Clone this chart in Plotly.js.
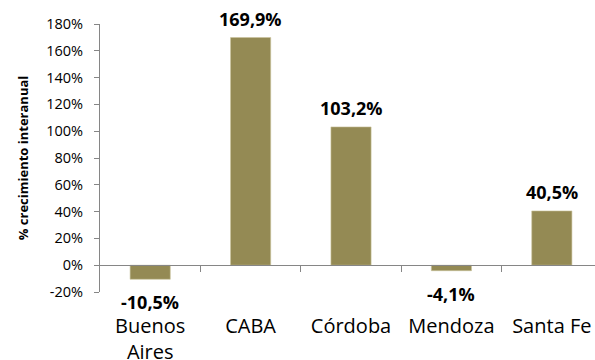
<!DOCTYPE html>
<html>
<head>
<meta charset="utf-8">
<script src="https://cdn.plot.ly/plotly-3.0.1.min.js"></script>
<style>html,body{margin:0;padding:0;background:#fff;overflow:hidden}</style>
</head>
<body>
<div id="chart" style="width:595px;height:360px"></div>
<script>
var categories = ["Buenos Aires", "CABA", "Córdoba", "Mendoza", "Santa Fe"];
var categoryLabels = ["Buenos<br>Aires", "CABA", "Córdoba", "Mendoza", "Santa Fe"];
var values = [-10.5, 169.9, 103.2, -4.1, 40.5];
var yTicks = [-20, 0, 20, 40, 60, 80, 100, 120, 140, 160, 180];
var yTickLabels = ["-20%", "0%", "20%", "40%", "60%", "80%", "100%", "120%", "140%", "160%", "180%"];

var FONT = "Open Sans, Lato, Liberation Sans, sans-serif";
var barColor = "#948A54";
var axisColor = "#868686";

var annotations = values.map(function (v, i) {
  return {
    x: categories[i], y: v, xref: "x", yref: "y",
    text: "<b>" + v.toFixed(1).replace(".", ",") + "%</b>",
    showarrow: false,
    yanchor: v >= 0 ? "bottom" : "top",
    yshift: v >= 0 ? 5 : -9,
    font: {family: FONT, size: 18, color: "#000"}
  };
});

var trace = {
  type: "bar",
  x: categories,
  y: values,
  xaxis: "x",
  yaxis: "y",
  marker: {color: barColor, line: {color: "#c9c29c", width: 0.6}},
  hoverinfo: "skip"
};

var layout = {
  width: 595, height: 360,
  margin: {l: 100, r: 0, t: 23.5, b: 67.5, pad: 0},
  paper_bgcolor: "#fff", plot_bgcolor: "#fff",
  separators: ",.",
  showlegend: false,
  bargap: 0.6,
  font: {family: FONT, color: "#000"},
  xaxis: {
    type: "category",
    range: [-0.5, 4.43],
    tickmode: "array",
    tickvals: categories,
    ticktext: categoryLabels,
    showline: false, ticks: "", showgrid: false, zeroline: false,
    tickfont: {family: FONT, size: 20, color: "#000"},
    ticklabelstandoff: 20,
    fixedrange: true
  },
  xaxis2: {
    overlaying: "x",
    anchor: "free",
    position: 0.1,
    type: "linear",
    range: [-0.5, 4.43],
    tickmode: "array",
    tickvals: [0.5, 1.5, 2.5, 3.5],
    ticks: "outside", ticklen: 6, tickcolor: axisColor, tickwidth: 1,
    showticklabels: false,
    showline: true, linecolor: axisColor, linewidth: 1,
    showgrid: false, zeroline: false
  },
  yaxis: {
    range: [-20, 180],
    tickmode: "array",
    tickvals: yTicks,
    ticktext: yTickLabels,
    showgrid: false, zeroline: false,
    showline: true, linecolor: axisColor, linewidth: 1,
    ticks: "outside", ticklen: 5, tickcolor: axisColor,
    tickfont: {family: FONT, size: 14.5, color: "#000"},
    ticklabelstandoff: 8,
    title: {text: "<b>% crecimiento interanual</b>", font: {family: FONT, size: 13, color: "#000"}, standoff: 14},
    fixedrange: true
  },
  annotations: annotations
};

// invisible trace to activate xaxis2
var dummy = {type: "scatter", x: [0], y: [0], xaxis: "x2", yaxis: "y", mode: "markers", marker: {opacity: 0}, hoverinfo: "skip"};

Plotly.newPlot("chart", [trace, dummy], layout, {staticPlot: true, displayModeBar: false});
</script>
</body>
</html>
